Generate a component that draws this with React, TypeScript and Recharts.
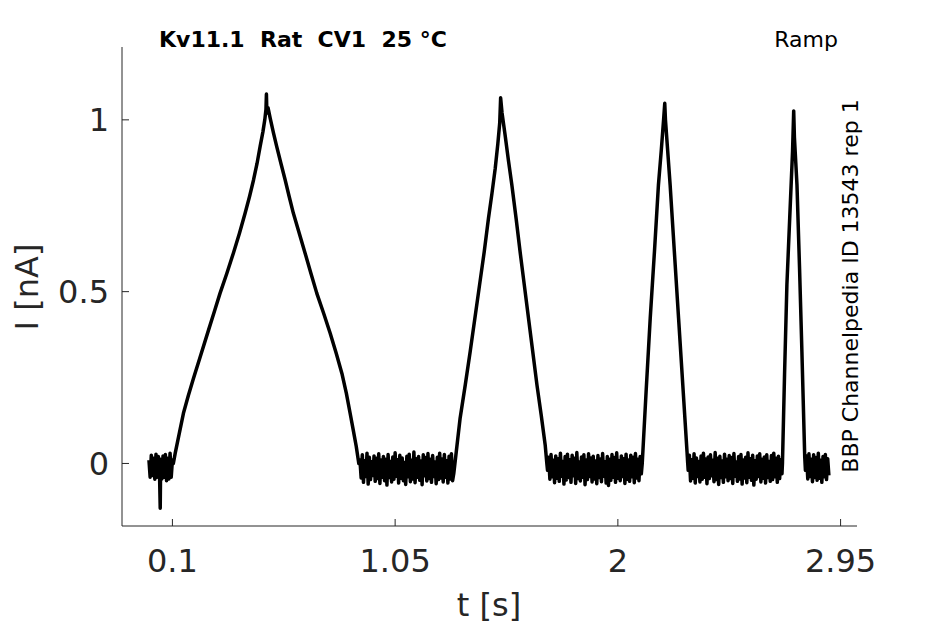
import { LineChart, Line, XAxis, YAxis } from 'recharts';

type Sample = [number, number]; // [t in s, I in nA]

// holding level before the first ramp (incl. the capacitive glitch near 0.048 s)
const baseline0: Sample[] = [
  [0.0, 0.01], [0.005, -0.04], [0.01, 0.024], [0.015, -0.035], [0.02, 0.015],
  [0.025, -0.046], [0.03, 0.027], [0.035, -0.04], [0.04, 0.02], [0.045, -0.03],
  [0.048, -0.13], [0.05, 0.012], [0.055, -0.045], [0.06, 0.022], [0.065, -0.04],
  [0.07, 0.026], [0.075, -0.05], [0.08, 0.015], [0.085, -0.045], [0.09, 0.03],
  [0.095, -0.04], [0.1, 0.01],
];

const ramp1: Sample[] = [
  [0.104, 0.0], [0.112, 0.03], [0.13, 0.09], [0.147, 0.146], [0.168, 0.198],
  [0.19, 0.248], [0.222, 0.318], [0.254, 0.388], [0.279, 0.442], [0.303, 0.495],
  [0.332, 0.553], [0.36, 0.612], [0.386, 0.67], [0.41, 0.728], [0.429, 0.777],
  [0.446, 0.825], [0.461, 0.873], [0.474, 0.922], [0.486, 0.965], [0.494, 1.0],
  [0.499, 1.03], [0.501, 1.075], [0.503, 1.02], [0.508, 1.035], [0.517, 1.005],
  [0.531, 0.962], [0.545, 0.922], [0.563, 0.873], [0.581, 0.825], [0.598, 0.777],
  [0.616, 0.728], [0.641, 0.67], [0.666, 0.612], [0.691, 0.553], [0.716, 0.495],
  [0.745, 0.437], [0.773, 0.379], [0.799, 0.32], [0.823, 0.262], [0.842, 0.204],
  [0.858, 0.146], [0.872, 0.095], [0.884, 0.05], [0.895, 0.0],
];

const baseline1: Sample[] = [
  [0.9, 0.01], [0.905, -0.042], [0.91, 0.025], [0.915, -0.055], [0.92, 0.008],
  [0.925, -0.038], [0.93, 0.03], [0.935, -0.06], [0.94, 0.018], [0.945, -0.047],
  [0.95, 0.005], [0.955, -0.035], [0.96, 0.022], [0.965, -0.052], [0.97, 0.015],
  [0.975, -0.044], [0.98, 0.028], [0.985, -0.058], [0.99, 0.01], [0.995, -0.04],
  [1.0, 0.02], [1.005, -0.05], [1.01, 0.012], [1.015, -0.063], [1.02, 0.026],
  [1.025, -0.041], [1.03, 0.006], [1.035, -0.054], [1.04, 0.019], [1.045, -0.046],
  [1.05, 0.031], [1.055, -0.037], [1.06, 0.011], [1.065, -0.057], [1.07, 0.024],
  [1.075, -0.043], [1.08, 0.016], [1.085, -0.05], [1.09, 0.003], [1.095, -0.061],
  [1.1, 0.021], [1.105, -0.039], [1.11, 0.027], [1.115, -0.053], [1.12, 0.009],
  [1.125, -0.045], [1.13, 0.033], [1.135, -0.056], [1.14, 0.014], [1.145, -0.04],
  [1.15, 0.02], [1.155, -0.049], [1.16, 0.007], [1.165, -0.062], [1.17, 0.025],
  [1.175, -0.036], [1.18, 0.017], [1.185, -0.051], [1.19, 0.029], [1.195, -0.044],
  [1.2, 0.012], [1.205, -0.055], [1.21, 0.023], [1.215, -0.038], [1.22, 0.004],
  [1.225, -0.059], [1.23, 0.018], [1.235, -0.047], [1.24, 0.03], [1.245, -0.042],
  [1.25, 0.013], [1.255, -0.054], [1.26, 0.026], [1.265, -0.04], [1.27, 0.008],
  [1.275, -0.057], [1.28, 0.021], [1.285, -0.045], [1.29, 0.028], [1.295, -0.05],
  [1.3, -0.03],
];

const ramp2: Sample[] = [
  [1.305, 0.0], [1.327, 0.131], [1.349, 0.228], [1.37, 0.325], [1.39, 0.422],
  [1.41, 0.519], [1.43, 0.616], [1.448, 0.713], [1.463, 0.786], [1.477, 0.859],
  [1.488, 0.93], [1.496, 0.99], [1.5, 1.064], [1.506, 1.02], [1.519, 0.956],
  [1.533, 0.883], [1.548, 0.81], [1.566, 0.713], [1.583, 0.616], [1.601, 0.519],
  [1.619, 0.422], [1.637, 0.325], [1.655, 0.228], [1.673, 0.141], [1.69, 0.054],
  [1.697, 0.0],
];

const baseline2: Sample[] = [
  [1.7, -0.02], [1.705, 0.018], [1.71, -0.046], [1.715, 0.026], [1.72, -0.039],
  [1.725, 0.009], [1.73, -0.056], [1.735, 0.022], [1.74, -0.043], [1.745, 0.014],
  [1.75, -0.052], [1.755, 0.03], [1.76, -0.037], [1.765, 0.006], [1.77, -0.06],
  [1.775, 0.02], [1.78, -0.048], [1.785, 0.027], [1.79, -0.041], [1.795, 0.011],
  [1.8, -0.055], [1.805, 0.024], [1.81, -0.036], [1.815, 0.015], [1.82, -0.058],
  [1.825, 0.032], [1.83, -0.044], [1.835, 0.004], [1.84, -0.051], [1.845, 0.019],
  [1.85, -0.04], [1.855, 0.025], [1.86, -0.062], [1.865, 0.01], [1.87, -0.047],
  [1.875, 0.028], [1.88, -0.038], [1.885, 0.016], [1.89, -0.054], [1.895, 0.021],
  [1.9, -0.045], [1.905, 0.007], [1.91, -0.059], [1.915, 0.023], [1.92, -0.041],
  [1.925, 0.013], [1.93, -0.053], [1.935, 0.029], [1.94, -0.037], [1.945, 0.005],
  [1.95, -0.057], [1.955, 0.02], [1.96, -0.064], [1.965, 0.012], [1.97, -0.049],
  [1.975, 0.026], [1.98, -0.04], [1.985, 0.017], [1.99, -0.055], [1.995, 0.031],
  [2.0, -0.043], [2.005, 0.008], [2.01, -0.05], [2.015, 0.022], [2.02, -0.038],
  [2.025, 0.014], [2.03, -0.058], [2.035, 0.027], [2.04, -0.046], [2.045, 0.01],
  [2.05, -0.052], [2.055, 0.024], [2.06, -0.039], [2.065, 0.018], [2.07, -0.056],
  [2.075, 0.029], [2.08, -0.042], [2.085, 0.012], [2.09, -0.05], [2.095, 0.02],
  [2.1, -0.03],
];

const ramp3: Sample[] = [
  [2.104, 0.0], [2.121, 0.216], [2.138, 0.422], [2.156, 0.616], [2.173, 0.81],
  [2.185, 0.91], [2.195, 1.0], [2.2, 1.048], [2.203, 1.0], [2.213, 0.905],
  [2.223, 0.81], [2.241, 0.616], [2.259, 0.422], [2.277, 0.228], [2.295, 0.034],
  [2.298, 0.0],
];

const baseline3: Sample[] = [
  [2.3, -0.02], [2.305, 0.024], [2.31, -0.051], [2.315, 0.011], [2.32, -0.043],
  [2.325, 0.028], [2.33, -0.057], [2.335, 0.016], [2.34, -0.038], [2.345, 0.006],
  [2.35, -0.054], [2.355, 0.022], [2.36, -0.046], [2.365, 0.03], [2.37, -0.04],
  [2.375, 0.013], [2.38, -0.059], [2.385, 0.019], [2.39, -0.044], [2.395, 0.025],
  [2.4, -0.036], [2.405, 0.009], [2.41, -0.053], [2.415, 0.032], [2.42, -0.047],
  [2.425, 0.015], [2.43, -0.061], [2.435, 0.021], [2.44, -0.041], [2.445, 0.007],
  [2.45, -0.055], [2.455, 0.027], [2.46, -0.039], [2.465, 0.012], [2.47, -0.05],
  [2.475, 0.023], [2.48, -0.044], [2.485, 0.017], [2.49, -0.058], [2.495, 0.029],
  [2.5, -0.037], [2.505, 0.004], [2.51, -0.052], [2.515, 0.02], [2.52, -0.045],
  [2.525, 0.026], [2.53, -0.06], [2.535, 0.01], [2.54, -0.042], [2.545, 0.018],
  [2.55, -0.056], [2.555, 0.031], [2.56, -0.04], [2.565, 0.014], [2.57, -0.049],
  [2.575, 0.024], [2.58, -0.063], [2.585, 0.008], [2.59, -0.046], [2.595, 0.022],
  [2.6, -0.038], [2.605, 0.028], [2.61, -0.054], [2.615, 0.012], [2.62, -0.043],
  [2.625, 0.019], [2.63, -0.057], [2.635, 0.025], [2.64, -0.041], [2.645, 0.006],
  [2.65, -0.052], [2.655, 0.023], [2.66, -0.047], [2.665, 0.03], [2.67, -0.039],
  [2.675, 0.015], [2.68, -0.055], [2.685, 0.021], [2.69, -0.044], [2.695, 0.011],
  [2.7, -0.03],
];

const ramp4: Sample[] = [
  [2.702, 0.0], [2.711, 0.26], [2.721, 0.52], [2.733, 0.714], [2.745, 0.907],
  [2.75, 1.026], [2.753, 0.95], [2.764, 0.81], [2.775, 0.567], [2.785, 0.325],
  [2.797, 0.02],
];

const baseline4: Sample[] = [
  [2.8, -0.02], [2.805, 0.022], [2.81, -0.045], [2.815, 0.028], [2.82, -0.038],
  [2.825, 0.012], [2.83, -0.053], [2.835, 0.025], [2.84, -0.041], [2.845, 0.017],
  [2.85, -0.049], [2.855, 0.03], [2.86, -0.043], [2.865, 0.009], [2.87, -0.055],
  [2.875, 0.02], [2.88, -0.039], [2.885, 0.026], [2.89, -0.047], [2.895, 0.014],
  [2.9, -0.035],
];

const xTicks = [0.1, 1.05, 2, 2.95];
const yTicks = [0, 0.5, 1];

const trace = [
  ...baseline0, ...ramp1, ...baseline1, ...ramp2, ...baseline2,
  ...ramp3, ...baseline3, ...ramp4, ...baseline4,
].map(([t, i]) => ({ t, i }));

const font = '"DejaVu Sans", sans-serif';
const axisColor = '#262626';

export default function App() {
  return (
    <div style={{ position: 'absolute', left: 0, top: 0, width: 945, height: 624, background: '#fff' }}>
      <LineChart
        width={945}
        height={624}
        data={trace}
        margin={{ top: 47, right: 88, left: 0, bottom: 0 }}
        style={{ fontFamily: font }}
      >
        <XAxis
          dataKey="t"
          type="number"
          domain={[-0.115, 3.02]}
          ticks={xTicks}
          interval={0}
          allowDataOverflow
          height={98}
          stroke={axisColor}
          tickSize={-7}
          tickMargin={30}
          tick={{ fill: axisColor, fontSize: 32 }}
        />
        <YAxis
          dataKey="i"
          type="number"
          domain={[-0.182, 1.212]}
          ticks={yTicks}
          interval={0}
          allowDataOverflow
          width={122}
          stroke={axisColor}
          tickSize={-7}
          tickMargin={20}
          tick={{ fill: axisColor, fontSize: 32 }}
        />
        <Line
          dataKey="i"
          type="linear"
          stroke="#000"
          strokeWidth={3.5}
          strokeLinejoin="round"
          dot={false}
          activeDot={false}
          isAnimationActive={false}
        />
      </LineChart>
      <svg
        width={945}
        height={624}
        style={{ position: 'absolute', left: 0, top: 0, pointerEvents: 'none', fontFamily: font }}
      >
        <text x={159} y={47} fontSize={22} fontWeight="bold" fill="#000" xmlSpace="preserve" style={{ whiteSpace: 'pre' }}>
          {'Kv11.1  Rat  CV1  25 °C'}
        </text>
        <text x={838} y={47} fontSize={22} textAnchor="end" fill="#000">
          Ramp
        </text>
        <text transform="translate(858,286) rotate(-90)" fontSize={22} textAnchor="middle" fill="#000">
          BBP Channelpedia ID 13543 rep 1
        </text>
        <text transform="translate(38,287) rotate(-90)" fontSize={32} textAnchor="middle" fill={axisColor}>
          I [nA]
        </text>
        <text x={489} y={616} fontSize={32} textAnchor="middle" fill={axisColor}>
          t [s]
        </text>
      </svg>
    </div>
  );
}
